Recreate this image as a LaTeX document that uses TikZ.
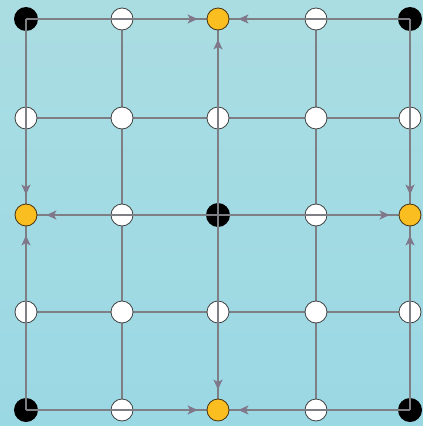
\documentclass[tikz,border=0pt]{standalone}
\usetikzlibrary{arrows.meta}
\pgfdeclarelayer{bg}\pgfdeclarelayer{fg}\pgfsetlayers{bg,main,fg}
\definecolor{bgtop}{RGB}{170,221,226}
\definecolor{bgbot}{RGB}{154,216,228}
\definecolor{gridc}{RGB}{125,127,132}
\definecolor{arrc}{RGB}{128,120,138}
\definecolor{gold}{RGB}{250,190,32}
\definecolor{wedge}{RGB}{65,65,65}
\definecolor{yedge}{RGB}{70,50,20}
\begin{document}
\begin{tikzpicture}[x=1pt,y=-1pt,
 wnode/.style={circle,draw=wedge,fill=white,minimum size=22pt,inner sep=0pt,line width=0.8pt},
 bnode/.style={circle,fill=black,minimum size=24pt,inner sep=0pt},
 ynode/.style={circle,draw=yedge,fill=gold,minimum size=22pt,inner sep=0pt,line width=0.8pt},
 gline/.style={draw=gridc,line width=1.7pt},
 arr/.style={gline,-{Stealth[length=10pt,width=9pt,inset=2.5pt,color=arrc]},shorten >=9pt}]
\useasboundingbox (0,0) rectangle (423,426);
\begin{pgfonlayer}{bg}
\fill[top color=bgtop,bottom color=bgbot] (0,0) rectangle (423,426);
\end{pgfonlayer}
% yellow targets
\begin{pgfonlayer}{fg}
\node[ynode] (n20) at (218,19) {};
\node[ynode] (n02) at (26,215) {};
\node[ynode] (n42) at (410,215) {};
\node[ynode] (n24) at (218,410) {};
\end{pgfonlayer}
% black sources
\node[bnode] (n00) at (26,19) {};
\node[bnode] (n40) at (410,19) {};
\node[bnode] (n22) at (218,215) {};
\node[bnode] (n04) at (26,410) {};
\node[bnode] (n44) at (410,410) {};
% white nodes
\node[wnode] (n10) at (122,19) {};
\node[wnode] (n30) at (316,19) {};
\node[wnode] (n01) at (26,118) {};
\node[wnode] (n11) at (122,118) {};
\node[wnode] (n21) at (218,118) {};
\node[wnode] (n31) at (316,118) {};
\node[wnode] (n41) at (410,118) {};
\node[wnode] (n12) at (122,215) {};
\node[wnode] (n32) at (316,215) {};
\node[wnode] (n03) at (26,312) {};
\node[wnode] (n13) at (122,312) {};
\node[wnode] (n23) at (218,312) {};
\node[wnode] (n33) at (316,312) {};
\node[wnode] (n43) at (410,312) {};
\node[wnode] (n14) at (122,410) {};
\node[wnode] (n34) at (316,410) {};
% plain grid lines behind nodes
\begin{pgfonlayer}{bg}
\draw[gline] (n01.center) -- (n41.center);
\draw[gline] (n03.center) -- (n43.center);
\draw[gline] (n10.center) -- (n14.center);
\draw[gline] (n30.center) -- (n34.center);
\end{pgfonlayer}
% arrow paths over nodes
\foreach \s/\t in {n00/n20,n40/n20,n22/n20,n00/n02,n04/n02,n22/n02,n40/n42,n44/n42,n22/n42,n04/n24,n44/n24,n22/n24}{
  \draw[gline] (\s.center) -- (\t.center);
  \draw[arr] (\s.center) -- (\t);
}
\end{tikzpicture}
\end{document}
